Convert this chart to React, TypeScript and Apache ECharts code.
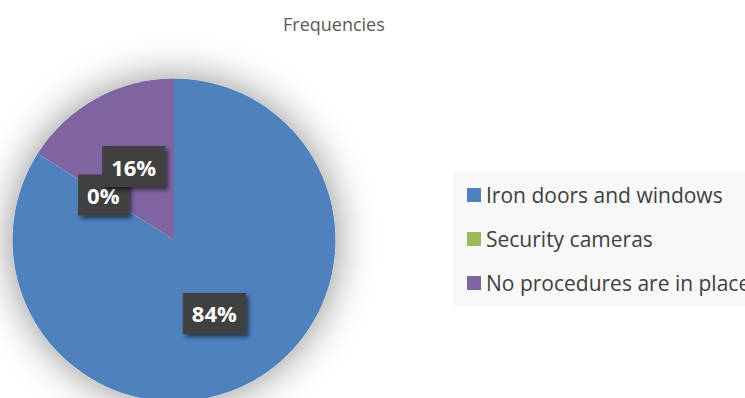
import React, { useEffect, useRef } from "react";
import * as echarts from "echarts";

const titleText = "Frequencies";
const categories = ["Iron doors and windows", "Security cameras", "No procedures are in place"];
const values = [84, 0, 16];
const colors = ["#4F81BD", "#9BBB59", "#8064A2"];

export default function App() {
  const ref = useRef<HTMLDivElement>(null);
  useEffect(() => {
    document.body.style.margin = "0";
    const chart = echarts.init(ref.current!, null, { renderer: "svg" });
    chart.setOption({
      animation: false,
      backgroundColor: "#ffffff",
      title: {
        text: titleText,
        left: 278,
        top: 10,
        textStyle: { fontFamily: "Open Sans", fontSize: 18, fontWeight: "normal", color: "#595959" },
      },
      legend: {
        orient: "vertical",
        left: 453,
        top: 172,
        data: categories,
        icon: "rect",
        itemWidth: 14,
        itemHeight: 14,
        itemGap: 22,
        padding: [12, 40, 12, 14],
        backgroundColor: "#f8f8f8",
        textStyle: { fontFamily: "Open Sans", fontSize: 21, color: "#404040", lineHeight: 22 },
        selectedMode: false,
      },
      series: [
        {
          type: "pie",
          silent: true,
          center: [174, 240],
          radius: 161.5,
          z: 1,
          label: { show: false },
          labelLine: { show: false },
          itemStyle: { color: "#ffffff", shadowBlur: 40, shadowColor: "rgba(0,0,0,0.45)" },
          data: [{ value: 1, name: "_bg" }],
          legendHoverLink: false,
        },
        {
          type: "pie",
          z: 2,
          center: [174, 240],
          radius: 161.5,
          startAngle: 90,
          clockwise: true,
          percentPrecision: 0,
          avoidLabelOverlap: false,
          labelLayout: { hideOverlap: false },
          color: colors,
          itemStyle: { borderWidth: 0 },
          label: {
            show: true,
            position: "inside",
            formatter: "{d}%",
            color: "#ffffff",
            fontFamily: "Open Sans",
            fontWeight: "bold",
            fontSize: 22,
            lineHeight: 25,
            backgroundColor: "#404040",
            padding: [8, 9, 8, 9],
            shadowColor: "rgba(0,0,0,0.55)",
            shadowBlur: 4,
            shadowOffsetX: 3,
            shadowOffsetY: 3,
          },
          labelLine: { show: false },
          data: categories.map((c, i) => ({ name: c, value: values[i] })),
        },
      ],
    });
    return () => chart.dispose();
  }, []);
  return <div ref={ref} style={{ width: 745, height: 398 }} />;
}
